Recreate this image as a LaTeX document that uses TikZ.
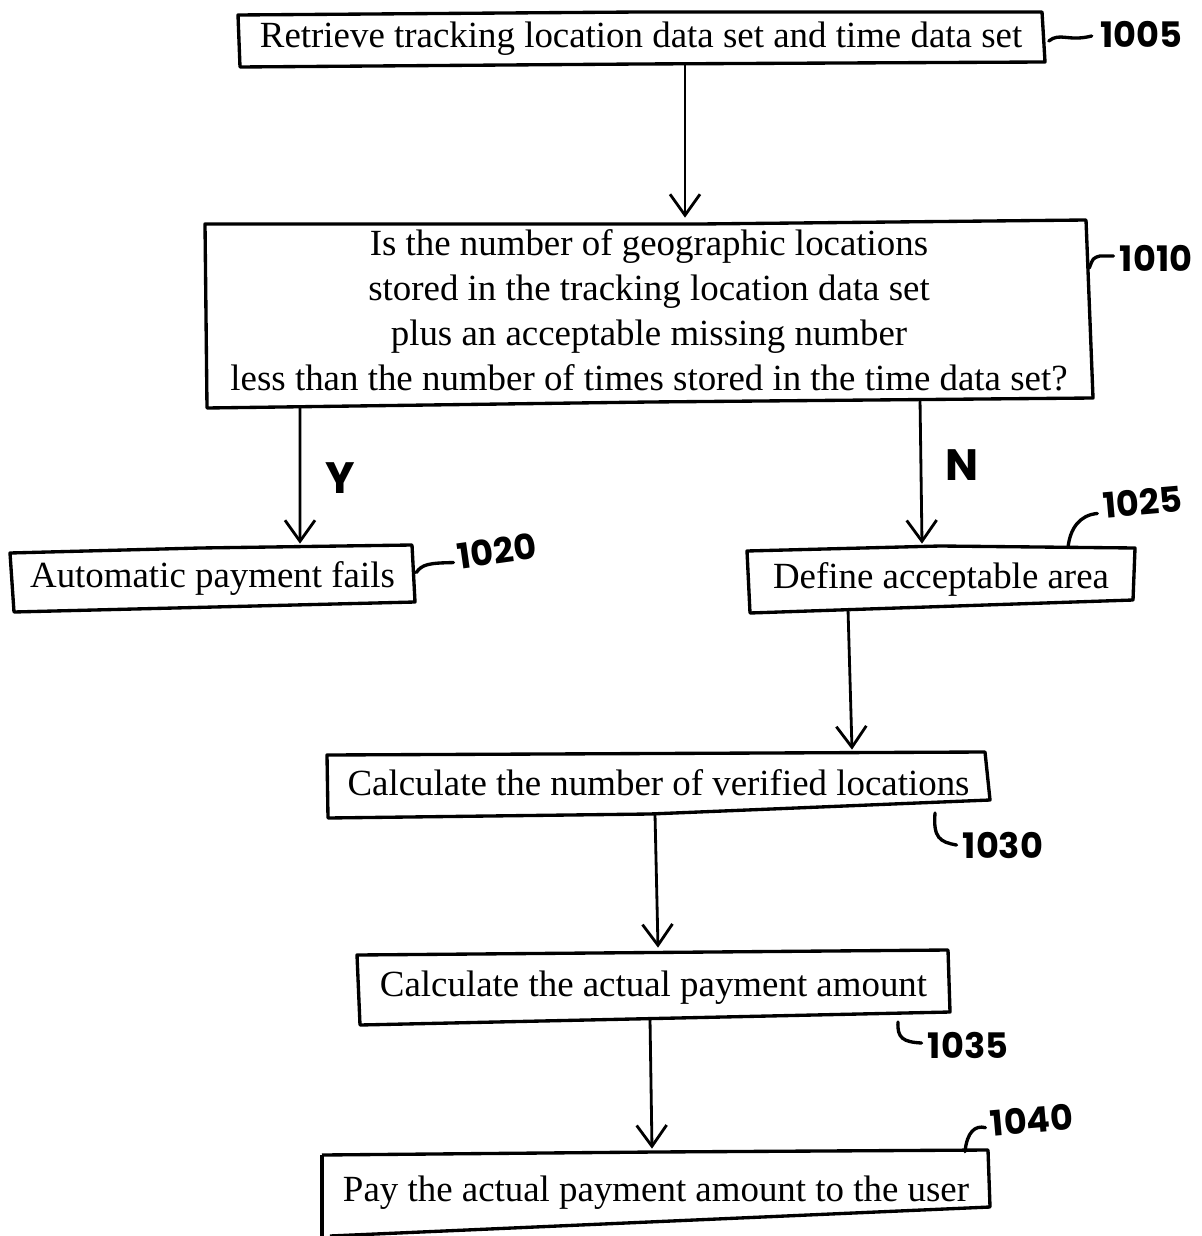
\documentclass[tikz,border=0pt]{standalone}
\usepackage{fontspec}
\setmainfont{Liberation Serif}
\newfontfamily\handfont{Poppins}
\usetikzlibrary{arrows.meta,calc}
\begin{document}
\begin{tikzpicture}[x=0.02cm,y=-0.02cm,
  box/.style={draw=none,rectangle,inner sep=0pt,align=center,font=\fontsize{21}{25.6}\selectfont},
  outline/.style={line width=1.9pt,line join=round},
  arr/.style={line width=1.6pt,-{Straight Barb[length=0.42cm,width=0.6cm,line width=1.6pt]}},
  lead/.style={line width=1.9pt,line cap=round},
  lab/.style={font=\handfont\bfseries\fontsize{20}{20}\selectfont,inner sep=0pt},
  yn/.style={font=\handfont\bfseries\fontsize{25}{25}\selectfont,inner sep=0pt}]
\useasboundingbox[fill=white] (0,0) rectangle (1202,1236);

% boxes (nodes)
\node[box,minimum width=16.14cm,minimum height=1.08cm] (n1005) at (641,39) {Retrieve tracking location data set and time data set};
\node[box,minimum width=17.76cm,minimum height=3.76cm] (n1010) at (649,314) {\raisebox{5pt}{\begin{tabular}{@{}c@{}}Is the number of geographic locations\\stored in the tracking location data set\\plus an acceptable missing number\\less than the number of times stored in the time data set?\end{tabular}}};
\node[box,minimum width=8.1cm,minimum height=1.34cm] (n1020) at (212.5,578.5) {Automatic payment fails};
\node[box,minimum width=7.76cm,minimum height=1.36cm] (n1025) at (941,579) {\raisebox{4pt}{Define acceptable area}};
\node[box,minimum width=13.26cm,minimum height=1.32cm] (n1030) at (658.5,785) {\raisebox{3pt}{Calculate the number of verified locations}};
\node[box,minimum width=11.86cm,minimum height=1.5cm] (n1035) at (653.5,987.5) {\raisebox{3pt}{Calculate the actual payment amount}};
\node[box,minimum width=13.36cm,minimum height=1.72cm] (n1040) at (656,1193) {\raisebox{5pt}{Pay the actual payment amount to the user}};

% hand-drawn outlines
\draw[outline] (238,15) -- (640,12) -- (1042,12) -- (1045,62) -- (640,64) -- (240,67) -- cycle;
\draw[outline] (205,224) -- (700,224) -- (1086,220) -- (1093,398) -- (650,402) -- (207,408) -- cycle;
\draw[outline] (10,553) -- (200,548) -- (412,545) -- (415,602) -- (14,612) -- cycle;
\draw[outline] (747,551) -- (940,546) -- (1135,548) -- (1133,600) -- (750,613) -- cycle;
\draw[outline] (327,755) -- (985,752) -- (990,800) -- (650,814) -- (328,818) -- cycle;
\draw[outline] (357,955) -- (948,950) -- (950,1012) -- (360,1025) -- cycle;
\draw[outline] (322,1155) -- (655,1152) -- (988,1150) -- (990,1207) -- (330,1236);
\draw[outline] (322,1155) -- (322,1236);

% connectors
\draw[arr] ($(n1005.south)+(44,-1)$) -- ($(n1010.north)+(36,-2)$);
\draw[arr] ($(n1010.south)+(-349,-1)$) -- ($(n1020.north)+(87.5,-1)$);
\draw[arr] ($(n1010.south)+(271,-9)$) -- ($(n1025.north)+(-19,-1)$);
\draw[arr] ($(n1025.south)+(-93,-4)$) -- ($(n1030.north)+(193.5,-2)$);
\draw[arr] ($(n1030.south)+(-3.5,-4)$) -- ($(n1035.north)+(4.5,-2)$);
\draw[arr] ($(n1035.south)+(-3.5,-6)$) -- ($(n1040.north)+(-4,-1)$);

% Y / N
\node[yn] (ly) at (340,478) {Y};
\node[yn] (ln) at (962,465) {N};

% reference numerals
\node[lab] (l1005) at (1141,34) {1005};
\node[lab] (l1010) at (1156,258) {1010};
\node[lab,rotate=8] (l1020) at (497,551) {1020};
\node[lab,rotate=5] (l1025) at (1143,502) {1025};
\node[lab] (l1030) at (1003,845) {1030};
\node[lab] (l1035) at (968,1045) {1035};
\node[lab,rotate=5] (l1040) at (1032,1120) {1040};

\draw[lead] ($(n1005.east)+(4,2)$) .. controls (1060,32) and (1068,42) .. ($(l1005.west)+(-8,2)$);
\draw[lead] ($(n1010.east)+(-4,-46)$) .. controls (1093,258) .. (1100,256) -- ($(l1010.west)+(-6,-2)$);
\draw[lead] ($(n1020.east)+(1,-6)$) .. controls (422,564) and (430,563) .. ($(l1020.west)+(-4,6)$);
\draw[lead] ($(n1025.north)+(127,3)$) .. controls (1070,528) and (1080,515) .. ($(l1025.west)+(-6,8)$);
\draw[lead] (935,813) .. controls (933,838) and (940,842) .. ($(l1030.west)+(-6,0)$);
\draw[lead] (898,1022) .. controls (897,1038) and (903,1042) .. ($(l1035.west)+(-6,-2)$);
\draw[lead] ($(n1040.north)+(309,2)$) .. controls (967,1132) and (975,1125) .. ($(l1040.west)+(-5,4)$);
\end{tikzpicture}
\end{document}
